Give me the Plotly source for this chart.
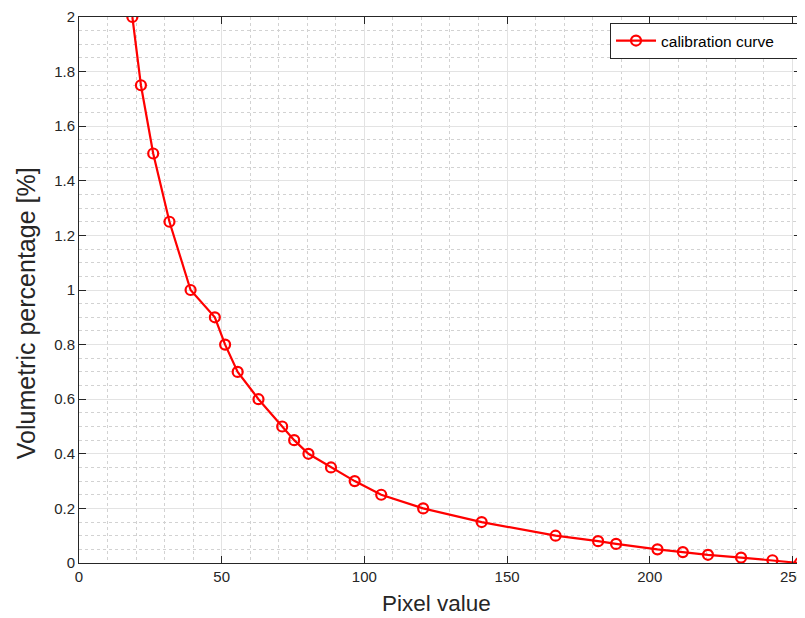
import plotly.graph_objects as go

# Data
pixel_value = [18.7, 21.7, 26.0, 31.7, 39.1, 47.6, 51.2, 55.6, 62.9, 71.2, 75.4, 80.4,
               88.3, 96.6, 105.9, 120.6, 141.1, 167.0, 181.9, 188.2, 202.7, 211.6,
               220.4, 232.0, 243.0, 252.6]
vol_percentage = [2.0, 1.75, 1.5, 1.25, 1.0, 0.9, 0.8, 0.7, 0.6, 0.5, 0.45, 0.4,
                  0.35, 0.3, 0.25, 0.2, 0.15, 0.1, 0.08, 0.07, 0.05, 0.04,
                  0.03, 0.02, 0.01, 0.0]
x_ticks = [0, 50, 100, 150, 200, 250]
y_ticks = [0, 0.2, 0.4, 0.6, 0.8, 1.0, 1.2, 1.4, 1.6, 1.8, 2.0]
y_tick_labels = ["0", "0.2", "0.4", "0.6", "0.8", "1", "1.2", "1.4", "1.6", "1.8", "2"]

OFF = 8  # page body margin
W, H = 805 - OFF, 618 - OFF
ML, MR, MT = 79 - OFF, 0, 15 - OFF
BOTTOM = 563 - OFF  # figure y of the x axis
MB = H - BOTTOM
pw, ph = W - ML - MR, H - MT - MB


def px_x(page_x):
    return (page_x - OFF - ML) / pw


def px_y(page_y):
    return (BOTTOM - (page_y - OFF)) / ph


axis_col = "#262626"
font_fam = "Liberation Sans, Arial, sans-serif"

fig = go.Figure()
fig.add_trace(go.Scatter(
    x=pixel_value, y=vol_percentage, mode="lines+markers",
    name="calibration curve\u00a0\u00a0\u00a0\u00a0",
    line=dict(color="#ff0000", width=2.2),
    marker=dict(symbol="circle-open", size=10, color="#ff0000",
                line=dict(color="#ff0000", width=2.2)),
))

common = dict(
    showline=True, linecolor=axis_col, linewidth=1, mirror="ticks",
    ticks="inside", ticklen=7, tickcolor=axis_col, tickwidth=1,
    showgrid=True, gridcolor="#e3e3e3", gridwidth=1, zeroline=False,
    tickfont=dict(family=font_fam, size=15, color=axis_col),
    ticklabeloverflow="allow",
)

fig.update_xaxes(range=[0, 253], tickvals=x_ticks,
                 minor=dict(dtick=10, showgrid=True, gridcolor="#d2d2d2",
                            griddash="dot", gridwidth=1, ticks=""),
                 **common)
fig.update_yaxes(range=[0, 2], tickvals=y_ticks, ticktext=y_tick_labels,
                 minor=dict(dtick=0.05, showgrid=True, gridcolor="#d2d2d2",
                            griddash="dot", gridwidth=1, ticks=""),
                 **common)

fig.add_annotation(text="Pixel value", xref="paper", yref="paper",
                   x=px_x(438), y=px_y(604),
                   xanchor="center", yanchor="middle", showarrow=False,
                   font=dict(family=font_fam, size=22.5, color=axis_col))
fig.add_annotation(text="Volumetric percentage [%]", xref="paper", yref="paper",
                   x=px_x(26), y=px_y(312), textangle=-90,
                   xanchor="center", yanchor="middle", showarrow=False,
                   font=dict(family=font_fam, size=25, color=axis_col))

fig.update_layout(
    width=W, height=H,
    margin=dict(l=ML, r=MR, t=MT, b=MB, pad=0),
    paper_bgcolor="white", plot_bgcolor="white",
    showlegend=True,
    legend=dict(x=px_x(802), y=px_y(21), xanchor="right", yanchor="top",
                bgcolor="white", bordercolor=axis_col, borderwidth=1,
                font=dict(family=font_fam, size=15.5, color="#000000"),
                itemwidth=40, tracegroupgap=0),
)

fig.write_html("out.html")
